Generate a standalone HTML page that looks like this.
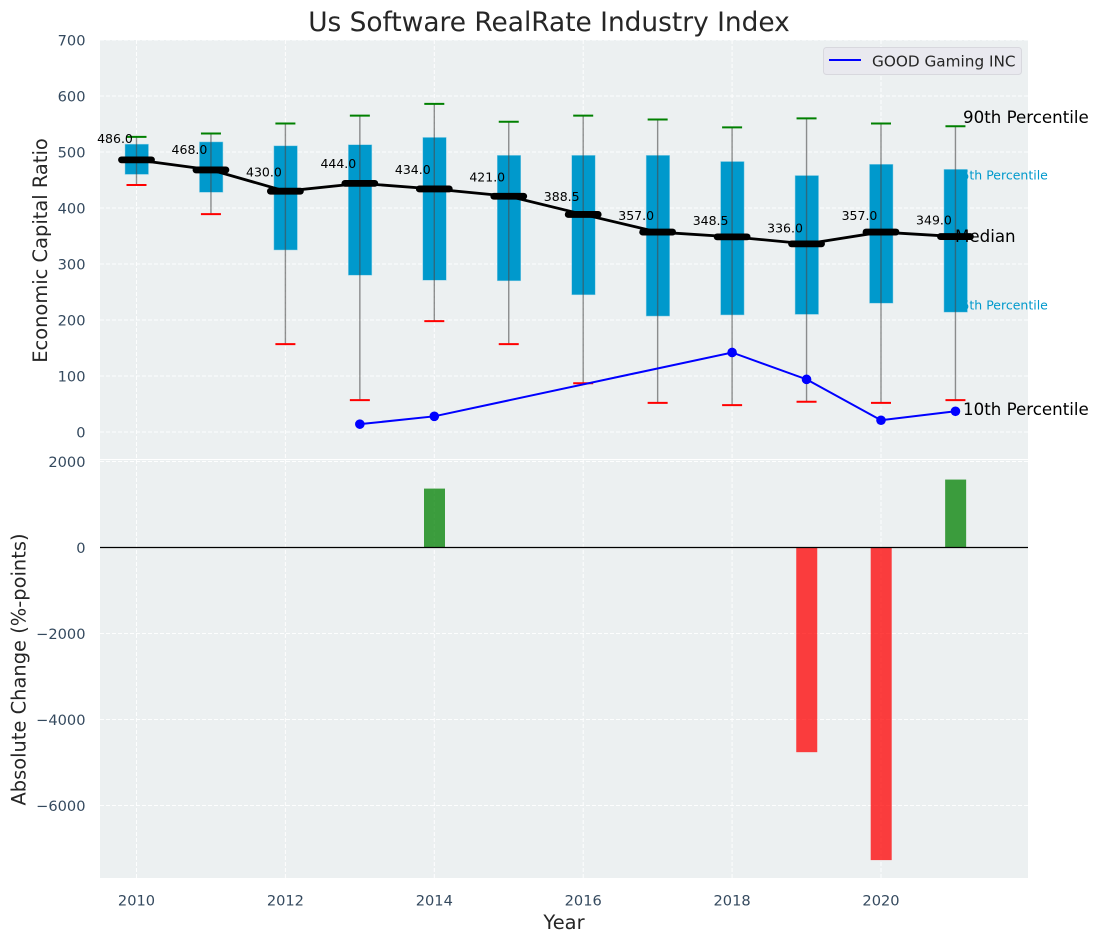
<!DOCTYPE html>
<html>
<head>
<meta charset="utf-8">
<title>Us Software RealRate Industry Index</title>
<style>
html,body{margin:0;padding:0;background:#fff;width:1098px;height:942px;overflow:hidden}
svg{display:block;font-family:"DejaVu Sans","Liberation Sans",sans-serif}
</style>
</head>
<body>
<svg id="chart" width="1098" height="942" viewBox="0 0 1098 942">
  <rect x="100" y="40" width="928" height="419" fill="#ecf0f1"/>
  <rect x="100" y="460" width="928" height="418" fill="#ecf0f1"/>
  <g id="grid"></g>
  <g id="boxes"></g>
  <g id="under-text">
    <text x="953.500" y="179.500" font-size="12.500" fill="#0099cc">75th Percentile</text>
    <text x="953.500" y="309.500" font-size="12.500" fill="#0099cc">25th Percentile</text>
    <text x="955" y="242" font-size="16.670" fill="#000">Median</text>
  </g>
  <g id="marks"></g>
  <g id="bars"></g>
  <g id="ticks"></g>
  <line x1="100" x2="1028" y1="547.500" y2="547.500" stroke="#000" stroke-width="1.300"/>
  <text x="963" y="123" font-size="16.670" fill="#000">90th Percentile</text>
  <text x="963" y="415" font-size="16.670" fill="#000">10th Percentile</text>
  <text x="549" y="31" font-size="26.400" fill="#262626" text-anchor="middle">Us Software RealRate Industry Index</text>
  <text transform="translate(47,250.500) rotate(-90)" font-size="19.440" fill="#262626" text-anchor="middle">Economic Capital Ratio</text>
  <text transform="translate(25.500,669.500) rotate(-90)" font-size="19.440" fill="#262626" text-anchor="middle">Absolute Change (%-points)</text>
  <text x="564" y="929" font-size="19.440" fill="#262626" text-anchor="middle">Year</text>
  <g>
    <rect x="823.500" y="47.500" width="198" height="27" rx="3" fill="#e9e9ef" stroke="#d8d8de"/>
    <line x1="829" x2="861" y1="60" y2="60" stroke="#0000ff" stroke-width="2"/>
    <text x="872" y="66.500" font-size="15.280" fill="#262626">GOOD Gaming INC</text>
  </g>
</svg>
<script>
const years = [2010, 2011, 2012, 2013, 2014, 2015, 2016, 2017, 2018, 2019, 2020, 2021];
const p90 = [527, 533, 551, 565, 586, 554, 565, 558, 544, 560, 551, 546];
const p75 = [514, 518, 511, 513, 526, 494, 494, 494, 483, 458, 478, 469];
const medians = [486, 468, 430, 444, 434, 421, 388.5, 357, 348.5, 336, 357, 349];
const p25 = [460, 428, 325, 280, 271, 270, 245, 207, 209, 210, 230, 214];
const p10 = [441, 389, 157, 57, 198, 157, 87, 52, 48, 54, 52, 57];
const companyYears = [2013, 2014, 2018, 2019, 2020, 2021];
const companyValues = [14, 28, 142, 94, 21, 37];
const changeYears = [2014, 2019, 2020, 2021];
const changeValues = [1370, -4760, -7270, 1580];
const xTicks = [2010, 2012, 2014, 2016, 2018, 2020];
const topYTicks = [0, 100, 200, 300, 400, 500, 600, 700];
const bottomYTicks = [-6000, -4000, -2000, 0, 2000];

const NS = 'http://www.w3.org/2000/svg';
const xScale = v => 136.5 + (v - 2010) * 74.45;
const topY = v => 432 - v * 0.56;
const bottomY = v => 547.5 - v * 0.043;

function mk(parentId, tag, attrs, content) {
  const el = document.createElementNS(NS, tag);
  for (const k in attrs) el.setAttribute(k, attrs[k]);
  if (content !== undefined) el.textContent = content;
  document.getElementById(parentId).appendChild(el);
  return el;
}
function tag(el, name) {
  
  
}

xTicks.forEach(v => {
  const top = mk('grid', 'line', {x1: xScale(v), x2: xScale(v), y1: 40, y2: 459, stroke: '#fff', 'stroke-width': 1, 'stroke-dasharray': '4 2', 'stroke-opacity': 0.9});
  tag(top, 'top-x-grid-' + v);
  const bot = mk('grid', 'line', {x1: xScale(v), x2: xScale(v), y1: 460, y2: 878, stroke: '#fff', 'stroke-width': 1, 'stroke-dasharray': '4 2', 'stroke-opacity': 0.9});
  tag(bot, 'bottom-x-grid-' + v);
  const label = mk('ticks', 'text', {x: xScale(v), y: 905.5, 'font-size': 14.6, fill: '#34495e', 'text-anchor': 'middle'}, String(v));
  tag(label, 'x-tick-' + v);
});
topYTicks.forEach(v => {
  const g = mk('grid', 'line', {x1: 100, x2: 1028, y1: topY(v), y2: topY(v), stroke: '#fff', 'stroke-width': 1, 'stroke-dasharray': '4 2', 'stroke-opacity': 0.9});
  tag(g, 'top-y-grid-' + v);
  const label = mk('ticks', 'text', {x: 85.5, y: topY(v) + 5.3, 'font-size': 14.6, fill: '#34495e', 'text-anchor': 'end'}, String(v));
  tag(label, 'top-y-tick-' + v);
});
bottomYTicks.forEach(v => {
  const g = mk('grid', 'line', {x1: 100, x2: 1028, y1: bottomY(v), y2: bottomY(v), stroke: '#fff', 'stroke-width': 1, 'stroke-dasharray': '4 2', 'stroke-opacity': 0.9});
  tag(g, 'bottom-y-grid-' + v);
  const label = mk('ticks', 'text', {x: 85.5, y: bottomY(v) + 5.3, 'font-size': 14.6, fill: '#34495e', 'text-anchor': 'end'}, String(v).replace('-', '\u2212'));
  tag(label, 'bottom-y-tick-' + v);
});

years.forEach((yr, i) => {
  const x = xScale(yr);
  const box = mk('boxes', 'rect', {x: x - 11.5, y: topY(p75[i]), width: 23.5, height: topY(p25[i]) - topY(p75[i]), fill: '#0099cc', stroke: '#8fd0e6', 'stroke-width': 0.5});
  tag(box, 'box-' + yr);
});
years.forEach((yr, i) => {
  const x = xScale(yr);
  const whisker = mk('marks', 'line', {x1: x, x2: x, y1: topY(p10[i]), y2: topY(p90[i]), stroke: '#4a4a4a', 'stroke-width': 1.4, 'stroke-opacity': 0.6});
  tag(whisker, 'whisker-' + yr);
  const capHigh = mk('marks', 'line', {x1: x - 10, x2: x + 10, y1: topY(p90[i]), y2: topY(p90[i]), stroke: '#008000', 'stroke-width': 2});
  tag(capHigh, 'p90-cap-' + yr);
  const capLow = mk('marks', 'line', {x1: x - 10, x2: x + 10, y1: topY(p10[i]), y2: topY(p10[i]), stroke: '#ff0000', 'stroke-width': 2});
  tag(capLow, 'p10-cap-' + yr);
});

const companyLine = mk('marks', 'polyline', {points: companyYears.map((y, i) => xScale(y) + ',' + topY(companyValues[i])).join(' '), fill: 'none', stroke: '#0000ff', 'stroke-width': 2});
tag(companyLine, 'good-gaming-line');
companyYears.forEach((yr, i) => {
  const pt = mk('marks', 'circle', {cx: xScale(yr), cy: topY(companyValues[i]), r: 4.8, fill: '#0000ff'});
  tag(pt, 'good-gaming-point-' + yr);
});

const medianLine = mk('marks', 'polyline', {points: years.map((y, i) => xScale(y) + ',' + topY(medians[i])).join(' '), fill: 'none', stroke: '#000', 'stroke-width': 2.8});
tag(medianLine, 'median-line');
years.forEach((yr, i) => {
  const x = xScale(yr);
  const seg = mk('marks', 'line', {x1: x - 15, x2: x + 15, y1: topY(medians[i]), y2: topY(medians[i]), stroke: '#000', 'stroke-width': 6.8, 'stroke-linecap': 'round'});
  tag(seg, 'median-bar-' + yr);
  const label = mk('marks', 'text', {x: x - 21.5, y: topY(medians[i] * 1.0615), 'font-size': 12.5, fill: '#000', 'text-anchor': 'middle'}, medians[i].toFixed(1));
  tag(label, 'median-value-' + yr);
});

changeYears.forEach((yr, i) => {
  const v = changeValues[i];
  const bar = mk('bars', 'rect', {x: xScale(yr) - 10.3, y: Math.min(bottomY(v), bottomY(0)), width: 21, height: Math.abs(bottomY(v) - bottomY(0)), fill: v >= 0 ? '#008000' : '#ff0000', 'fill-opacity': 0.75});
  tag(bar, 'change-bar-' + yr);
});
</script>
</body>
</html>
